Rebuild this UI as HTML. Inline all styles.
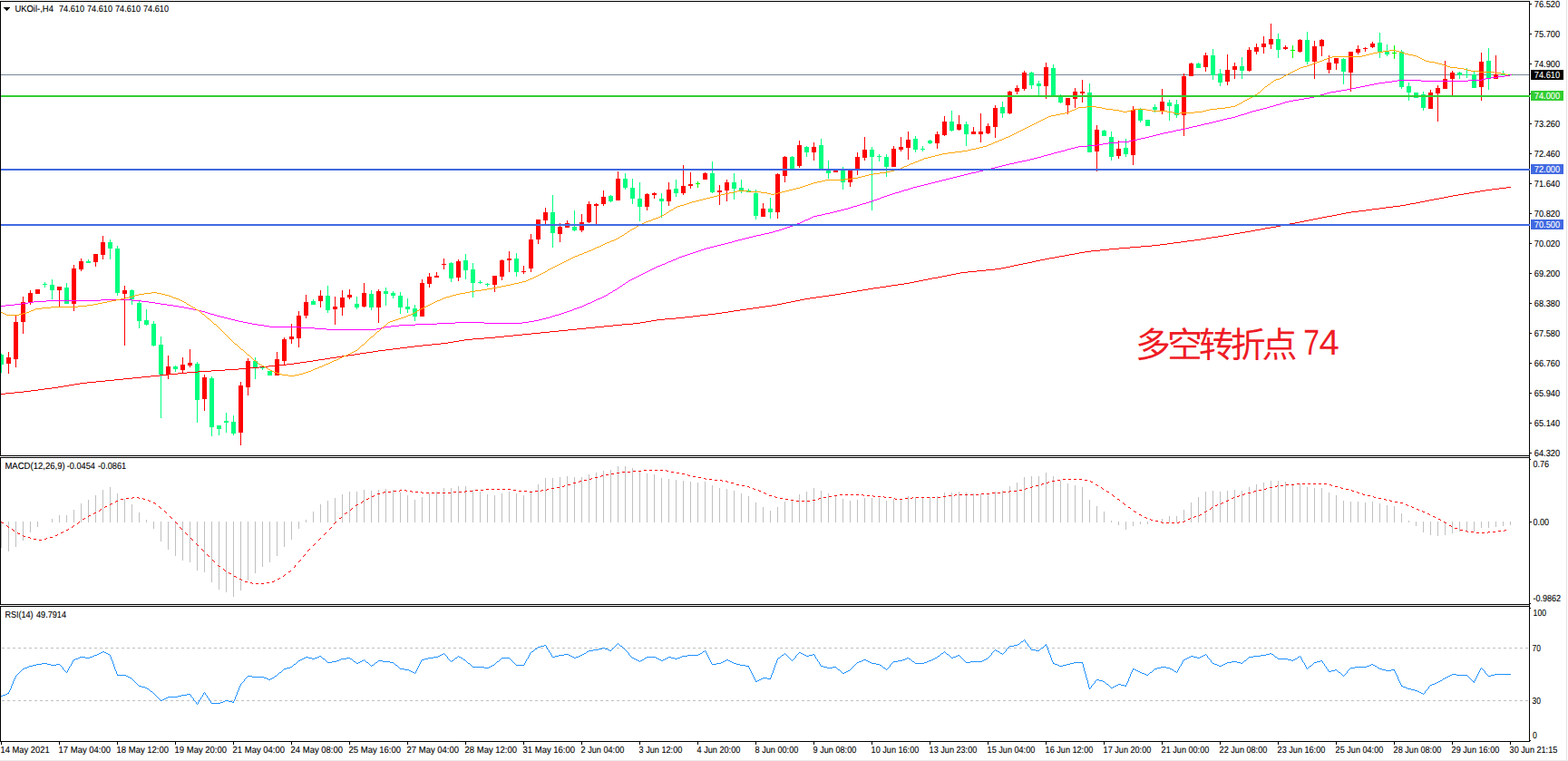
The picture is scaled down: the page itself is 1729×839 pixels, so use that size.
<!DOCTYPE html>
<html><head><meta charset="utf-8"><title>UKOil H4</title>
<style>html,body{margin:0;padding:0;background:#fff;overflow:hidden}svg{display:block}text{font-family:"Liberation Sans",sans-serif;font-size:10.2px;fill:#000;stroke:#000;stroke-width:0.1px;text-rendering:geometricPrecision}.w{fill:#fff;stroke:#fff}</style></head><body>
<svg width="1729" height="839" viewBox="0 0 1729 839">
<rect width="1729" height="839" fill="#fff"/>
<g shape-rendering="crispEdges">
<rect x="1727" y="0" width="1" height="839" fill="#E3E3E3"/>
<rect x="0" y="838" width="1729" height="1" fill="#E9E9E9"/>
<path d="M1 575V604M9 575V608M17 575V603M25 575V596M33 575V587M41 575V581M57 572V576M65 568V576M73 568V576M81 562V576M89 555V576M97 551V576M105 546V576M113 540V576M121 537V576M129 544V576M137 550V576M145 556V576M153 565V576M161 573V576M169 575V583M177 575V597M185 575V606M193 575V613M201 575V618M209 575V620M217 575V629M225 575V631M233 575V642M241 575V650M249 575V653M257 575V658M265 575V651M273 575V640M281 575V632M289 575V625M297 575V620M305 575V613M313 575V603M321 575V595M329 575V583M337 573V576M345 564V576M353 556V576M361 552V576M369 549V576M377 545V576M385 542V576M393 542V576M401 540V576M409 541V576M417 540V576M425 539V576M433 540V576M441 543V576M449 546V576M457 551V576M465 548V576M473 544V576M481 542V576M489 538V576M497 538V576M505 536V576M513 536V576M521 540V576M529 542V576M537 545V576M545 546V576M553 544V576M561 542V576M569 544V576M577 546V576M585 541V576M593 534V576M601 527V576M609 527V576M617 526V576M625 525V576M633 526V576M641 526V576M649 523V576M657 521V576M665 519V576M673 518V576M681 514V576M689 514V576M697 516V576M705 520V576M713 522V576M721 523V576M729 527V576M737 528V576M745 529V576M753 530V576M761 531V576M769 532V576M777 531V576M785 535V576M793 538V576M801 539V576M809 541V576M817 544V576M825 547V576M833 554V576M841 559V576M849 563V576M857 559V576M865 553V576M873 551V576M881 545V576M889 542V576M897 538V576M905 541V576M913 544V576M921 546V576M929 550V576M937 552V576M945 551V576M953 549V576M961 549V576M969 549V576M977 552V576M985 550V576M993 550V576M1001 547V576M1009 548V576M1017 548V576M1025 548V576M1033 547V576M1041 543V576M1049 543V576M1057 542V576M1065 543V576M1073 544V576M1081 545V576M1089 545V576M1097 542V576M1105 541V576M1113 536V576M1121 532V576M1129 526V576M1137 525V576M1145 525V576M1153 521V576M1161 525V576M1169 530V576M1177 533V576M1185 535V576M1193 537V576M1201 551V576M1209 558V576M1217 564V576M1225 574V576M1233 575V579M1241 575V584M1249 575V580M1257 575V578M1265 575V578M1281 572V576M1289 569V576M1297 569V576M1305 562V576M1313 554V576M1321 548V576M1329 542V576M1337 541V576M1345 542V576M1353 541V576M1361 540V576M1369 541V576M1377 537V576M1385 534V576M1393 532V576M1401 530V576M1409 530V576M1417 531V576M1425 533V576M1433 533V576M1441 537V576M1449 538V576M1457 538V576M1465 543V576M1473 546V576M1481 552V576M1489 553V576M1497 553V576M1505 554V576M1513 553V576M1521 555V576M1529 557V576M1537 558V576M1545 566V576M1553 574V576M1561 575V580M1569 575V587M1577 575V590M1585 575V591M1593 575V590M1601 575V588M1609 575V586M1617 575V586M1625 575V586M1633 575V582M1641 575V582M1649 575V581M1657 575V580M1665 575V579" stroke="#C0C0C0" stroke-width="1" fill="none" transform="translate(0.5,0)"/>
<path d="M2 714h3M8 714h3M14 714h3M20 714h3M26 714h3M32 714h3M38 714h3M44 714h3M50 714h3M56 714h3M62 714h3M68 714h3M74 714h3M80 714h3M86 714h3M92 714h3M98 714h3M104 714h3M110 714h3M116 714h3M122 714h3M128 714h3M134 714h3M140 714h3M146 714h3M152 714h3M158 714h3M164 714h3M170 714h3M176 714h3M182 714h3M188 714h3M194 714h3M200 714h3M206 714h3M212 714h3M218 714h3M224 714h3M230 714h3M236 714h3M242 714h3M248 714h3M254 714h3M260 714h3M266 714h3M272 714h3M278 714h3M284 714h3M290 714h3M296 714h3M302 714h3M308 714h3M314 714h3M320 714h3M326 714h3M332 714h3M338 714h3M344 714h3M350 714h3M356 714h3M362 714h3M368 714h3M374 714h3M380 714h3M386 714h3M392 714h3M398 714h3M404 714h3M410 714h3M416 714h3M422 714h3M428 714h3M434 714h3M440 714h3M446 714h3M452 714h3M458 714h3M464 714h3M470 714h3M476 714h3M482 714h3M488 714h3M494 714h3M500 714h3M506 714h3M512 714h3M518 714h3M524 714h3M530 714h3M536 714h3M542 714h3M548 714h3M554 714h3M560 714h3M566 714h3M572 714h3M578 714h3M584 714h3M590 714h3M596 714h3M602 714h3M608 714h3M614 714h3M620 714h3M626 714h3M632 714h3M638 714h3M644 714h3M650 714h3M656 714h3M662 714h3M668 714h3M674 714h3M680 714h3M686 714h3M692 714h3M698 714h3M704 714h3M710 714h3M716 714h3M722 714h3M728 714h3M734 714h3M740 714h3M746 714h3M752 714h3M758 714h3M764 714h3M770 714h3M776 714h3M782 714h3M788 714h3M794 714h3M800 714h3M806 714h3M812 714h3M818 714h3M824 714h3M830 714h3M836 714h3M842 714h3M848 714h3M854 714h3M860 714h3M866 714h3M872 714h3M878 714h3M884 714h3M890 714h3M896 714h3M902 714h3M908 714h3M914 714h3M920 714h3M926 714h3M932 714h3M938 714h3M944 714h3M950 714h3M956 714h3M962 714h3M968 714h3M974 714h3M980 714h3M986 714h3M992 714h3M998 714h3M1004 714h3M1010 714h3M1016 714h3M1022 714h3M1028 714h3M1034 714h3M1040 714h3M1046 714h3M1052 714h3M1058 714h3M1064 714h3M1070 714h3M1076 714h3M1082 714h3M1088 714h3M1094 714h3M1100 714h3M1106 714h3M1112 714h3M1118 714h3M1124 714h3M1130 714h3M1136 714h3M1142 714h3M1148 714h3M1154 714h3M1160 714h3M1166 714h3M1172 714h3M1178 714h3M1184 714h3M1190 714h3M1196 714h3M1202 714h3M1208 714h3M1214 714h3M1220 714h3M1226 714h3M1232 714h3M1238 714h3M1244 714h3M1250 714h3M1256 714h3M1262 714h3M1268 714h3M1274 714h3M1280 714h3M1286 714h3M1292 714h3M1298 714h3M1304 714h3M1310 714h3M1316 714h3M1322 714h3M1328 714h3M1334 714h3M1340 714h3M1346 714h3M1352 714h3M1358 714h3M1364 714h3M1370 714h3M1376 714h3M1382 714h3M1388 714h3M1394 714h3M1400 714h3M1406 714h3M1412 714h3M1418 714h3M1424 714h3M1430 714h3M1436 714h3M1442 714h3M1448 714h3M1454 714h3M1460 714h3M1466 714h3M1472 714h3M1478 714h3M1484 714h3M1490 714h3M1496 714h3M1502 714h3M1508 714h3M1514 714h3M1520 714h3M1526 714h3M1532 714h3M1538 714h3M1544 714h3M1550 714h3M1556 714h3M1562 714h3M1568 714h3M1574 714h3M1580 714h3M1586 714h3M1592 714h3M1598 714h3M1604 714h3M1610 714h3M1616 714h3M1622 714h3M1628 714h3M1634 714h3M1640 714h3M1646 714h3M1652 714h3M1658 714h3M1664 714h3M1670 714h3M1676 714h3M1682 714h3" stroke="#C0C0C0" stroke-width="1" fill="none" transform="translate(0,0.5)"/>
<path d="M2 772h3M8 772h3M14 772h3M20 772h3M26 772h3M32 772h3M38 772h3M44 772h3M50 772h3M56 772h3M62 772h3M68 772h3M74 772h3M80 772h3M86 772h3M92 772h3M98 772h3M104 772h3M110 772h3M116 772h3M122 772h3M128 772h3M134 772h3M140 772h3M146 772h3M152 772h3M158 772h3M164 772h3M170 772h3M176 772h3M182 772h3M188 772h3M194 772h3M200 772h3M206 772h3M212 772h3M218 772h3M224 772h3M230 772h3M236 772h3M242 772h3M248 772h3M254 772h3M260 772h3M266 772h3M272 772h3M278 772h3M284 772h3M290 772h3M296 772h3M302 772h3M308 772h3M314 772h3M320 772h3M326 772h3M332 772h3M338 772h3M344 772h3M350 772h3M356 772h3M362 772h3M368 772h3M374 772h3M380 772h3M386 772h3M392 772h3M398 772h3M404 772h3M410 772h3M416 772h3M422 772h3M428 772h3M434 772h3M440 772h3M446 772h3M452 772h3M458 772h3M464 772h3M470 772h3M476 772h3M482 772h3M488 772h3M494 772h3M500 772h3M506 772h3M512 772h3M518 772h3M524 772h3M530 772h3M536 772h3M542 772h3M548 772h3M554 772h3M560 772h3M566 772h3M572 772h3M578 772h3M584 772h3M590 772h3M596 772h3M602 772h3M608 772h3M614 772h3M620 772h3M626 772h3M632 772h3M638 772h3M644 772h3M650 772h3M656 772h3M662 772h3M668 772h3M674 772h3M680 772h3M686 772h3M692 772h3M698 772h3M704 772h3M710 772h3M716 772h3M722 772h3M728 772h3M734 772h3M740 772h3M746 772h3M752 772h3M758 772h3M764 772h3M770 772h3M776 772h3M782 772h3M788 772h3M794 772h3M800 772h3M806 772h3M812 772h3M818 772h3M824 772h3M830 772h3M836 772h3M842 772h3M848 772h3M854 772h3M860 772h3M866 772h3M872 772h3M878 772h3M884 772h3M890 772h3M896 772h3M902 772h3M908 772h3M914 772h3M920 772h3M926 772h3M932 772h3M938 772h3M944 772h3M950 772h3M956 772h3M962 772h3M968 772h3M974 772h3M980 772h3M986 772h3M992 772h3M998 772h3M1004 772h3M1010 772h3M1016 772h3M1022 772h3M1028 772h3M1034 772h3M1040 772h3M1046 772h3M1052 772h3M1058 772h3M1064 772h3M1070 772h3M1076 772h3M1082 772h3M1088 772h3M1094 772h3M1100 772h3M1106 772h3M1112 772h3M1118 772h3M1124 772h3M1130 772h3M1136 772h3M1142 772h3M1148 772h3M1154 772h3M1160 772h3M1166 772h3M1172 772h3M1178 772h3M1184 772h3M1190 772h3M1196 772h3M1202 772h3M1208 772h3M1214 772h3M1220 772h3M1226 772h3M1232 772h3M1238 772h3M1244 772h3M1250 772h3M1256 772h3M1262 772h3M1268 772h3M1274 772h3M1280 772h3M1286 772h3M1292 772h3M1298 772h3M1304 772h3M1310 772h3M1316 772h3M1322 772h3M1328 772h3M1334 772h3M1340 772h3M1346 772h3M1352 772h3M1358 772h3M1364 772h3M1370 772h3M1376 772h3M1382 772h3M1388 772h3M1394 772h3M1400 772h3M1406 772h3M1412 772h3M1418 772h3M1424 772h3M1430 772h3M1436 772h3M1442 772h3M1448 772h3M1454 772h3M1460 772h3M1466 772h3M1472 772h3M1478 772h3M1484 772h3M1490 772h3M1496 772h3M1502 772h3M1508 772h3M1514 772h3M1520 772h3M1526 772h3M1532 772h3M1538 772h3M1544 772h3M1550 772h3M1556 772h3M1562 772h3M1568 772h3M1574 772h3M1580 772h3M1586 772h3M1592 772h3M1598 772h3M1604 772h3M1610 772h3M1616 772h3M1622 772h3M1628 772h3M1634 772h3M1640 772h3M1646 772h3M1652 772h3M1658 772h3M1664 772h3M1670 772h3M1676 772h3M1682 772h3" stroke="#C0C0C0" stroke-width="1" fill="none" transform="translate(0,0.5)"/>
<rect x="1" y="82" width="1685" height="1" fill="#778899"/>
<path d="M1 390V411M49 311V317M57 308V330M73 312V335M97 286V290M121 264V286M129 271V326M145 319V336M153 331V362M161 341V359M169 354V382M177 371V461M193 403V410M217 399V466M233 415V481M241 469V480M249 455V477M257 458V480M281 394V418M289 404V408M297 409V414M345 330V336M361 315V345M393 327V341M409 320V342M425 317V337M433 321V329M441 322V346M449 329V345M457 336V354M497 289V311M513 280V308M521 290V328M529 309V313M537 312V316M569 279V305M609 215V273M633 232V255M673 215V223M689 191V209M697 197V225M705 201V244M729 213V240M745 198V217M785 178V213M809 191V220M817 198V213M825 208V212M833 209V242M849 218V241M873 172V187M889 161V173M905 153V187M913 177V197M929 184V209M961 162V232M969 170V178M977 170V195M1009 150V168M1017 161V167M1025 154V159M1049 122V145M1065 134V161M1105 112V130M1137 79V98M1145 89V105M1161 71V106M1169 104V114M1201 92V168M1217 143V150M1225 145V177M1241 153V173M1257 119V135M1265 132V139M1273 115V124M1289 110V133M1297 110V130M1321 69V75M1337 54V88M1345 76V95M1369 63V87M1409 37V64M1441 35V71M1481 64V93M1521 36V64M1529 49V62M1545 55V98M1553 91V111M1561 102V108M1569 101V122M1609 79V87M1617 75V86M1625 79V97M1641 53V99M1657 78V83" stroke="#00FF7F" stroke-width="1" fill="none" transform="translate(0.5,0)"/>
<path d="M1 391h3v11h-3zM47 313h5v1h-5zM55 314h5v6h-5zM71 317h5v18h-5zM95 288h5v2h-5zM119 267h5v7h-5zM127 274h5v49h-5zM143 320h5v10h-5zM151 334h5v20h-5zM159 353h5v5h-5zM167 357h5v24h-5zM175 380h5v33h-5zM191 404h5v3h-5zM215 401h5v40h-5zM231 417h5v54h-5zM239 469h5v4h-5zM247 464h5v2h-5zM255 465h5v13h-5zM279 398h5v7h-5zM287 405h5v1h-5zM295 409h5v5h-5zM343 332h5v4h-5zM359 326h5v16h-5zM391 335h5v4h-5zM407 324h5v15h-5zM423 321h5v3h-5zM431 323h5v3h-5zM439 326h5v13h-5zM447 338h5v3h-5zM455 340h5v9h-5zM495 290h5v17h-5zM511 287h5v11h-5zM519 297h5v15h-5zM527 311h5v1h-5zM535 313h5v1h-5zM567 285h5v15h-5zM607 234h5v23h-5zM631 250h5v4h-5zM671 216h5v6h-5zM687 197h5v10h-5zM695 207h5v12h-5zM703 219h5v9h-5zM727 219h5v3h-5zM743 208h5v5h-5zM783 191h5v21h-5zM807 201h5v7h-5zM815 207h5v3h-5zM823 210h5v2h-5zM831 213h5v25h-5zM847 230h5v4h-5zM871 173h5v14h-5zM887 162h5v6h-5zM903 160h5v27h-5zM911 188h5v3h-5zM927 187h5v14h-5zM959 165h5v8h-5zM967 172h5v1h-5zM975 173h5v11h-5zM1007 153h5v12h-5zM1015 164h5v1h-5zM1023 155h5v3h-5zM1047 134h5v10h-5zM1063 137h5v11h-5zM1103 118h5v7h-5zM1135 80h5v14h-5zM1143 92h5v3h-5zM1159 75h5v31h-5zM1167 106h5v7h-5zM1199 102h5v66h-5zM1215 144h5v6h-5zM1223 151h5v22h-5zM1239 163h5v7h-5zM1255 120h5v13h-5zM1263 132h5v7h-5zM1271 118h5v3h-5zM1287 113h5v4h-5zM1295 115h5v12h-5zM1319 70h5v5h-5zM1335 61h5v22h-5zM1343 81h5v10h-5zM1367 73h5v5h-5zM1407 43h5v12h-5zM1439 44h5v24h-5zM1479 65h5v14h-5zM1519 47h5v10h-5zM1527 56h5v4h-5zM1543 57h5v39h-5zM1551 95h5v7h-5zM1559 102h5v6h-5zM1567 104h5v15h-5zM1607 80h5v3h-5zM1615 82h5v1h-5zM1623 82h5v15h-5zM1639 67h5v19h-5zM1655 82h5v1h-5z" fill="#00FF7F"/>
<path d="M9 388V412M17 347V405M25 327V368M33 320V336M41 319V324M65 316V338M81 292V343M89 285V299M105 280V294M113 260V286M137 315V381M185 392V418M201 394V411M209 385V405M225 413V453M265 421V491M273 395V436M305 388V414M313 372V402M321 357V379M329 343V383M337 325V351M353 320V339M369 327V358M377 320V348M385 319V330M401 312V339M417 319V356M465 308V349M473 301V317M481 300V306M489 285V297M505 286V310M545 304V322M553 286V309M561 277V300M577 293V302M585 258V300M593 242V269M601 229V247M617 246V267M625 243V251M641 236V256M649 222V246M657 224V247M665 210V227M681 189V221M713 213V232M721 212V219M737 201V227M753 182V215M761 190V208M777 190V198M793 204V226M801 198V222M841 224V239M857 191V241M865 172V201M881 155V185M897 157V177M921 187V190M937 187V206M945 168V193M953 151V177M985 161V184M993 151V167M1001 145V176M1033 145V164M1041 128V150M1057 127V144M1073 140V148M1081 125V157M1089 136V148M1097 116V152M1113 100V126M1121 94V104M1129 78V100M1153 69V109M1177 108V126M1185 97V119M1193 88V113M1209 138V189M1233 155V175M1249 117V182M1281 98V126M1305 81V150M1313 69V84M1329 58V79M1353 60V94M1361 69V87M1377 52V79M1385 48V60M1393 40V59M1401 26V54M1417 50V55M1433 43V58M1449 45V87M1457 43V62M1465 61V81M1473 64V77M1489 57V101M1497 50V60M1505 52V57M1513 46V53M1577 99V120M1585 94V134M1593 67V98M1601 78V105M1633 58V111M1649 61V87" stroke="#FF0000" stroke-width="1" fill="none" transform="translate(0.5,0)"/>
<path d="M7 394h5v7h-5zM15 355h5v41h-5zM23 333h5v22h-5zM31 323h5v11h-5zM39 319h5v5h-5zM63 316h5v4h-5zM79 296h5v39h-5zM87 288h5v9h-5zM103 280h5v9h-5zM111 267h5v14h-5zM135 320h5v4h-5zM183 404h5v9h-5zM199 402h5v6h-5zM207 400h5v3h-5zM223 416h5v24h-5zM263 425h5v52h-5zM271 398h5v29h-5zM303 396h5v18h-5zM311 374h5v24h-5zM319 371h5v3h-5zM327 348h5v25h-5zM335 333h5v15h-5zM351 326h5v6h-5zM367 338h5v3h-5zM375 328h5v11h-5zM383 325h5v3h-5zM399 323h5v15h-5zM415 321h5v18h-5zM463 312h5v37h-5zM471 305h5v8h-5zM479 304h5v2h-5zM487 291h5v1h-5zM503 288h5v18h-5zM543 304h5v10h-5zM551 287h5v18h-5zM559 285h5v2h-5zM575 299h5v1h-5zM583 264h5v32h-5zM591 242h5v22h-5zM599 234h5v9h-5zM615 250h5v8h-5zM623 246h5v5h-5zM639 245h5v9h-5zM647 225h5v20h-5zM655 225h5v2h-5zM663 217h5v8h-5zM679 197h5v24h-5zM711 214h5v14h-5zM719 213h5v2h-5zM735 209h5v13h-5zM751 205h5v8h-5zM759 203h5v2h-5zM775 191h5v7h-5zM791 210h5v2h-5zM799 201h5v9h-5zM839 230h5v9h-5zM855 192h5v42h-5zM863 173h5v21h-5zM879 160h5v23h-5zM895 162h5v6h-5zM919 187h5v3h-5zM935 187h5v14h-5zM943 173h5v13h-5zM951 165h5v9h-5zM983 164h5v20h-5zM991 162h5v3h-5zM999 154h5v9h-5zM1031 148h5v10h-5zM1039 134h5v15h-5zM1055 137h5v6h-5zM1071 145h5v3h-5zM1079 145h5v3h-5zM1087 139h5v8h-5zM1095 119h5v21h-5zM1111 101h5v24h-5zM1119 97h5v4h-5zM1127 80h5v18h-5zM1151 74h5v21h-5zM1175 108h5v8h-5zM1183 101h5v8h-5zM1191 101h5v2h-5zM1207 143h5v24h-5zM1231 164h5v8h-5zM1247 121h5v50h-5zM1279 112h5v10h-5zM1303 84h5v43h-5zM1311 70h5v14h-5zM1327 61h5v13h-5zM1351 77h5v13h-5zM1359 73h5v4h-5zM1375 55h5v23h-5zM1383 52h5v5h-5zM1391 48h5v4h-5zM1399 43h5v6h-5zM1415 52h5v2h-5zM1431 44h5v13h-5zM1447 51h5v17h-5zM1455 44h5v7h-5zM1463 69h5v8h-5zM1471 64h5v6h-5zM1487 57h5v23h-5zM1495 54h5v4h-5zM1503 53h5v1h-5zM1511 48h5v4h-5zM1575 102h5v18h-5zM1583 97h5v6h-5zM1591 87h5v11h-5zM1599 80h5v7h-5zM1631 68h5v28h-5zM1647 82h5v5h-5z" fill="#FF0000"/>
<path d="M769 200V207M1425 50V64M1537 50V65" stroke="#00FF00" stroke-width="1" fill="none" transform="translate(0.5,0)"/>
<path d="M767 202h5v1h-5zM1423 55h5v1h-5zM1535 58h5v1h-5z" fill="#00FF00"/>
<rect x="1663" y="82" width="5" height="1" fill="#00FF00"/>
</g>
<g shape-rendering="crispEdges" transform="translate(0,0.5)">
<path d="M1661 206h5M1653 207h8M1645 208h8M1638 209h7M1632 210h6M1626 211h6M1620 212h6M1614 213h6M1608 214h6M1602 215h6M1597 216h5M1592 217h5M1587 218h5M1581 219h6M1576 220h5M1571 221h5M1566 222h5M1561 223h5M1555 224h6M1550 225h5M1544 226h6M1536 227h8M1528 228h8M1521 229h7M1513 230h8M1506 231h7M1498 232h8M1490 233h8M1484 234h6M1479 235h5M1474 236h5M1469 237h5M1463 238h6M1458 239h5M1453 240h5M1448 241h5M1443 242h5M1438 243h5M1433 244h5M1428 245h5M1422 246h6M1417 247h5M1412 248h5M1407 249h5M1401 250h6M1395 251h6M1390 252h5M1384 253h6M1379 254h5M1373 255h6M1367 256h6M1361 257h6M1355 258h6M1349 259h6M1343 260h6M1336 261h7M1330 262h6M1324 263h6M1317 264h7M1309 265h8M1302 266h7M1294 267h8M1287 268h7M1279 269h8M1270 270h9M1258 271h12M1246 272h12M1234 273h12M1223 274h11M1213 275h10M1203 276h10M1196 277h7M1190 278h6M1185 279h5M1179 280h6M1174 281h5M1168 282h6M1163 283h5M1157 284h6M1152 285h5M1147 286h5M1142 287h5M1138 288h4M1133 289h5M1128 290h5M1123 291h5M1118 292h5M1114 293h4M1109 294h5M1104 295h5M1097 296h7M1087 297h10M1077 298h10M1067 299h10M1059 300h8M1054 301h5M1049 302h5M1044 303h5M1039 304h5M1034 305h5M1028 306h6M1023 307h5M1018 308h5M1013 309h5M1008 310h5M1003 311h5M997 312h6M990 313h7M983 314h7M977 315h6M970 316h7M963 317h7M957 318h6M951 319h6M945 320h6M939 321h6M933 322h6M927 323h6M921 324h6M914 325h7M907 326h7M900 327h7M893 328h7M887 329h6M882 330h5M877 331h5M872 332h5M867 333h5M862 334h5M857 335h5M851 336h6M844 337h7M837 338h7M830 339h7M823 340h7M816 341h7M809 342h7M803 343h6M796 344h7M789 345h7M781 346h8M772 347h9M764 348h8M755 349h9M745 350h10M733 351h12M724 352h9M718 353h6M712 354h6M706 355h6M698 356h8M686 357h12M676 358h10M666 359h10M656 360h10M646 361h10M636 362h10M626 363h10M616 364h10M606 365h10M596 366h10M586 367h10M576 368h10M566 369h10M556 370h10M546 371h10M534 372h12M521 373h13M512 374h9M506 375h6M500 376h6M494 377h6M486 378h8M476 379h10M466 380h10M457 381h9M449 382h8M441 383h8M433 384h8M425 385h8M417 386h8M411 387h6M404 388h7M397 389h7M391 390h6M384 391h7M377 392h7M371 393h6M364 394h7M358 395h6M351 396h7M345 397h6M338 398h7M331 399h7M324 400h7M316 401h8M306 402h10M296 403h10M286 404h10M276 405h10M263 406h13M248 407h15M233 408h15M218 409h15M206 410h12M196 411h10M186 412h10M176 413h10M166 414h10M156 415h10M146 416h10M136 417h10M126 418h10M116 419h10M106 420h10M96 421h10M88 422h8M82 423h6M76 424h6M70 425h6M64 426h6M57 427h7M49 428h8M42 429h7M34 430h8M26 431h8M16 432h10M6 433h10M1 434h5" stroke="#FF0000" stroke-width="1" fill="none"/>
<path d="M1665 82h2M1659 83h6M1651 84h8M1644 85h7M1638 86h6M1634 87h4M1541 88h26M1619 88h15M1535 89h6M1567 89h52M1527 90h8M1520 91h7M1515 92h5M1510 93h5M1505 94h5M1500 95h5M1495 96h5M1490 97h5M1485 98h5M1479 99h6M1473 100h6M1467 101h6M1463 102h4M1460 103h3M1456 104h4M1453 105h3M1449 106h4M1444 107h5M1438 108h6M1432 109h6M1426 110h6M1421 111h5M1417 112h4M1414 113h3M1411 114h3M1407 115h4M1404 116h3M1400 117h4M1397 118h3M1393 119h4M1389 120h4M1385 121h4M1381 122h4M1378 123h3M1375 124h3M1372 125h3M1368 126h4M1365 127h3M1362 128h3M1358 129h4M1353 130h5M1349 131h4M1345 132h4M1341 133h4M1337 134h4M1333 135h4M1328 136h5M1324 137h4M1320 138h4M1315 139h5M1311 140h4M1307 141h4M1302 142h5M1297 143h5M1293 144h4M1288 145h5M1283 146h5M1279 147h4M1275 148h4M1271 149h4M1267 150h4M1263 151h4M1258 152h5M1254 153h4M1249 154h5M1245 155h4M1234 156h11M1222 157h12M1216 158h6M1210 159h6M1199 160h11M1189 161h10M1185 162h4M1181 163h4M1177 164h4M1174 165h3M1170 166h4M1166 167h4M1162 168h4M1159 169h3M1155 170h4M1151 171h4M1148 172h3M1144 173h4M1140 174h4M1136 175h4M1132 176h4M1127 177h5M1122 178h5M1118 179h4M1113 180h5M1109 181h4M1105 182h4M1101 183h4M1097 184h4M1093 185h4M1089 186h4M1084 187h5M1080 188h4M1076 189h4M1071 190h5M1067 191h4M1063 192h4M1059 193h4M1055 194h4M1051 195h4M1047 196h4M1043 197h4M1039 198h4M1035 199h4M1031 200h4M1027 201h4M1023 202h4M1019 203h4M1015 204h4M1011 205h4M1007 206h4M1004 207h3M1001 208h3M997 209h4M994 210h3M991 211h3M987 212h4M984 213h3M981 214h3M978 215h3M975 216h3M972 217h3M970 218h2M967 219h3M964 220h3M961 221h3M958 222h3M955 223h3M951 224h4M948 225h3M945 226h3M941 227h4M938 228h3M935 229h3M931 230h4M927 231h4M923 232h4M919 233h4M915 234h4M910 235h5M906 236h4M901 237h5M897 238h4M895 239h2M893 240h2M891 241h2M888 242h3M886 243h2M884 244h2M882 245h2M879 246h3M876 247h3M874 248h2M871 249h3M868 250h3M865 251h3M862 252h3M859 253h3M855 254h4M852 255h3M848 256h4M843 257h5M839 258h4M834 259h5M830 260h4M826 261h4M822 262h4M818 263h4M814 264h4M810 265h4M807 266h3M803 267h4M799 268h4M795 269h4M791 270h4M787 271h4M783 272h4M779 273h4M776 274h3M773 275h3M770 276h3M767 277h3M764 278h3M761 279h3M758 280h3M755 281h3M752 282h3M749 283h3M747 284h2M745 285h2M742 286h3M740 287h2M737 288h3M735 289h2M733 290h2M730 291h3M728 292h2M725 293h3M723 294h2M721 295h2M719 296h2M717 297h2M715 298h2M713 299h2M711 300h2M709 301h2M707 302h2M705 303h2M703 304h2M701 305h2M699 306h2M697 307h2M695 308h2M693 309h2M692 310h1M690 311h2M689 312h1M687 313h2M686 314h1M684 315h2M683 316h1M681 317h2M680 318h1M678 319h2M676 320h2M675 321h1M673 322h2M671 323h2M670 324h1M668 325h2M666 326h2M664 327h2M662 328h2M659 329h3M111 330h35M657 330h2M51 331h60M146 331h10M655 331h2M37 332h14M156 332h8M653 332h2M31 333h6M164 333h7M651 333h2M24 334h7M171 334h6M648 334h3M16 335h8M177 335h7M646 335h2M6 336h10M184 336h7M644 336h2M1 337h5M191 337h6M642 337h2M197 338h6M639 338h3M203 339h5M636 339h3M208 340h5M633 340h3M213 341h5M631 341h2M218 342h4M628 342h3M222 343h4M625 343h3M226 344h3M622 344h3M229 345h3M619 345h3M232 346h4M616 346h3M236 347h3M612 347h4M239 348h4M609 348h3M243 349h4M606 349h3M247 350h4M602 350h4M251 351h4M598 351h4M255 352h4M594 352h4M259 353h4M589 353h5M263 354h5M583 354h6M268 355h5M502 355h32M576 355h7M273 356h5M482 356h20M534 356h42M278 357h6M458 357h24M284 358h7M440 358h18M291 359h6M431 359h9M297 360h34M424 360h7M331 361h16M420 361h4M347 362h13M415 362h5M360 363h55" stroke="#FF00FF" stroke-width="1" fill="none"/>
<path d="M1532 55h7M1525 56h7M1539 56h4M1519 57h6M1543 57h3M1514 58h5M1546 58h3M1510 59h4M1549 59h4M1506 60h4M1553 60h5M1502 61h4M1558 61h4M1469 62h33M1562 62h2M1465 63h4M1564 63h2M1463 64h2M1566 64h2M1460 65h3M1568 65h2M1458 66h2M1570 66h2M1455 67h3M1572 67h4M1452 68h3M1576 68h6M1449 69h3M1582 69h4M1447 70h2M1586 70h4M1444 71h3M1590 71h3M1441 72h3M1593 72h3M1437 73h4M1596 73h3M1434 74h3M1599 74h8M1432 75h2M1607 75h7M1430 76h2M1614 76h4M1428 77h2M1618 77h4M1426 78h2M1622 78h9M1424 79h2M1631 79h17M1422 80h2M1648 80h7M1420 81h2M1655 81h5M1418 82h2M1660 82h3M1416 83h2M1415 84h1M1413 85h2M1411 86h2M1407 87h4M1405 88h2M1404 89h1M1402 90h2M1401 91h1M1400 92h1M1398 93h2M1397 94h1M1395 95h2M1394 96h1M1393 97h1M1392 98h1M1391 99h1M1390 100h1M1389 101h1M1387 102h2M1386 103h1M1384 104h2M1383 105h1M1381 106h2M1379 107h2M1377 108h2M1375 109h2M1373 110h2M1371 111h2M1370 112h1M1368 113h2M1366 114h2M1364 115h2M1362 116h2M1198 117h11M1357 117h5M1189 118h9M1209 118h6M1351 118h6M1187 119h2M1215 119h4M1342 119h9M1185 120h2M1219 120h8M1250 120h14M1334 120h8M1182 121h3M1227 121h7M1247 121h3M1264 121h6M1330 121h4M1180 122h2M1234 122h4M1243 122h4M1270 122h17M1326 122h4M1178 123h2M1238 123h5M1287 123h6M1317 123h9M1174 124h4M1293 124h3M1301 124h16M1169 125h5M1296 125h5M1164 126h5M1159 127h5M1156 128h3M1154 129h2M1152 130h2M1150 131h2M1148 132h2M1146 133h2M1144 134h2M1142 135h2M1140 136h2M1138 137h2M1136 138h2M1134 139h2M1132 140h2M1130 141h2M1128 142h2M1126 143h2M1124 144h2M1122 145h2M1120 146h2M1118 147h2M1116 148h2M1114 149h2M1112 150h2M1109 151h3M1107 152h2M1105 153h2M1102 154h3M1100 155h2M1097 156h3M1095 157h2M1093 158h2M1090 159h3M1088 160h2M1084 161h4M1080 162h4M1076 163h4M1071 164h5M1067 165h4M1061 166h6M1053 167h8M1045 168h8M1039 169h6M1035 170h4M1031 171h4M1027 172h4M1023 173h4M1019 174h4M1017 175h2M1014 176h3M1012 177h2M1009 178h3M1007 179h2M1004 180h3M1002 181h2M1000 182h2M997 183h3M995 184h2M993 185h2M990 186h3M986 187h4M982 188h4M977 189h5M970 190h7M963 191h7M958 192h5M954 193h4M950 194h4M946 195h4M939 196h7M931 197h8M910 198h21M906 199h4M901 200h5M897 201h4M894 202h3M891 203h3M888 204h3M885 205h3M882 206h3M878 207h4M874 208h4M870 209h4M813 210h12M866 210h4M809 211h4M825 211h14M862 211h4M804 212h5M839 212h7M858 212h4M799 213h5M846 213h4M854 213h4M795 214h4M850 214h4M791 215h4M787 216h4M783 217h4M779 218h4M775 219h4M771 220h4M767 221h4M763 222h4M760 223h3M757 224h3M754 225h3M750 226h4M747 227h3M745 228h2M743 229h2M742 230h1M740 231h2M738 232h2M737 233h1M735 234h2M734 235h1M732 236h2M730 237h2M728 238h2M726 239h2M723 240h3M720 241h3M718 242h2M715 243h3M712 244h3M710 245h2M708 246h2M706 247h2M704 248h2M702 249h2M701 250h1M699 251h2M697 252h2M695 253h2M694 254h1M692 255h2M691 256h1M689 257h2M688 258h1M686 259h2M684 260h2M683 261h1M681 262h2M679 263h2M677 264h2M674 265h3M672 266h2M669 267h3M667 268h2M665 269h2M663 270h2M661 271h2M658 272h3M656 273h2M654 274h2M652 275h2M649 276h3M647 277h2M644 278h3M642 279h2M639 280h3M637 281h2M634 282h3M632 283h2M630 284h2M628 285h2M626 286h2M624 287h2M622 288h2M620 289h2M618 290h2M616 291h2M614 292h2M612 293h2M610 294h2M608 295h2M606 296h2M604 297h2M603 298h1M601 299h2M599 300h2M597 301h2M595 302h2M593 303h2M591 304h2M589 305h2M587 306h2M584 307h3M582 308h2M580 309h2M576 310h4M572 311h4M567 312h5M563 313h4M558 314h5M553 315h5M548 316h5M543 317h5M537 318h6M531 319h6M524 320h7M518 321h6M167 322h6M513 322h5M159 323h8M173 323h5M507 323h6M153 324h6M178 324h4M503 324h4M149 325h4M182 325h4M499 325h4M146 326h3M186 326h3M496 326h3M142 327h4M189 327h2M492 327h4M138 328h4M191 328h3M489 328h3M133 329h5M194 329h3M487 329h2M128 330h5M197 330h2M485 330h2M123 331h5M199 331h2M482 331h3M118 332h5M201 332h2M480 332h2M113 333h5M203 333h2M478 333h2M108 334h5M205 334h1M476 334h2M103 335h5M206 335h2M474 335h2M96 336h7M208 336h2M472 336h2M86 337h10M210 337h1M470 337h2M56 338h30M211 338h2M468 338h2M46 339h10M213 339h2M466 339h2M39 340h7M215 340h1M464 340h2M37 341h2M216 341h2M462 341h2M34 342h3M218 342h2M460 342h2M32 343h2M220 343h1M459 343h1M1 344h2M29 344h3M221 344h1M457 344h2M3 345h2M25 345h4M222 345h1M455 345h2M5 346h2M21 346h4M223 346h2M453 346h2M7 347h14M225 347h1M450 347h3M226 348h1M448 348h2M227 349h1M445 349h3M228 350h1M442 350h3M229 351h2M439 351h3M231 352h1M436 352h3M232 353h1M433 353h3M233 354h1M430 354h3M234 355h1M428 355h2M235 356h1M427 356h1M236 357h2M426 357h1M238 358h1M425 358h1M239 359h1M423 359h2M240 360h1M422 360h1M241 361h1M421 361h1M242 362h1M420 362h1M243 363h1M419 363h1M244 364h1M418 364h1M245 365h1M416 365h2M246 366h1M415 366h1M247 367h1M414 367h1M248 368h1M413 368h1M249 369h1M412 369h1M250 370h1M411 370h1M251 371h1M409 371h2M252 372h1M408 372h1M253 373h1M407 373h1M254 374h1M406 374h1M255 375h1M405 375h1M256 376h1M404 376h1M257 377h1M403 377h1M258 378h1M402 378h1M259 379h2M401 379h1M261 380h1M399 380h2M262 381h1M398 381h1M263 382h1M397 382h1M264 383h1M396 383h1M265 384h1M395 384h1M266 385h2M394 385h1M268 386h1M392 386h2M269 387h1M390 387h2M270 388h1M388 388h2M271 389h1M386 389h2M272 390h1M384 390h2M273 391h2M382 391h2M275 392h1M379 392h3M276 393h1M377 393h2M277 394h1M375 394h2M278 395h1M373 395h2M279 396h1M371 396h2M280 397h2M368 397h3M282 398h1M366 398h2M283 399h1M364 399h2M284 400h1M362 400h2M285 401h2M359 401h3M287 402h2M357 402h2M289 403h2M355 403h2M291 404h2M352 404h3M293 405h1M350 405h2M294 406h2M347 406h3M296 407h2M345 407h2M298 408h2M343 408h2M300 409h2M340 409h3M302 410h3M337 410h3M305 411h3M334 411h3M308 412h3M330 412h4M311 413h7M325 413h5M318 414h7" stroke="#FFA500" stroke-width="1" fill="none"/>
</g>
<g shape-rendering="crispEdges">
<rect x="1" y="105" width="1686" height="2" fill="#32CD32"/>
<rect x="1" y="186" width="1686" height="2" fill="#4169E1"/>
<rect x="1" y="247" width="1686" height="2" fill="#4169E1"/>
</g>
<g shape-rendering="crispEdges" transform="translate(0,0.5)">
<path d="M710 518h3M716 518h3M722 518h3M728 518h3M734 518h1M698 519h3M704 519h3M735 519h2M686 520h3M692 520h3M740 520h3M680 521h3M746 521h3M674 522h3M752 522h3M668 523h3M758 523h1M663 524h2M759 524h2M662 525h1M764 525h3M656 526h3M770 526h3M652 527h1M776 527h2M650 528h2M778 528h1M782 528h3M1172 528h3M1178 528h3M1184 528h3M1190 528h3M644 529h3M788 529h3M794 529h2M1166 529h3M1196 529h3M639 530h2M796 530h1M800 530h2M1160 530h3M1202 530h1M638 531h1M802 531h1M1156 531h1M1203 531h2M632 532h3M806 532h3M1154 532h2M1149 533h2M1430 533h3M1436 533h3M1442 533h3M1448 533h3M1454 533h3M1460 533h3M626 534h3M812 534h3M1148 534h1M1208 534h2M1418 534h3M1424 534h3M1466 534h2M622 535h1M818 535h3M1142 535h3M1210 535h1M1408 535h1M1412 535h3M1468 535h1M620 536h2M824 536h2M1138 536h1M1406 536h2M1472 536h3M614 537h3M826 537h1M1136 537h2M1214 537h1M1400 537h3M1478 537h1M608 538h3M830 538h1M1131 538h2M1215 538h1M1396 538h1M1479 538h2M536 539h3M542 539h3M548 539h3M554 539h3M560 539h3M603 539h2M831 539h2M1130 539h1M1216 539h1M1394 539h2M1484 539h3M441 540h2M446 540h2M524 540h3M530 540h3M566 540h3M597 540h2M602 540h1M836 540h1M1124 540h3M1388 540h3M1490 540h1M434 541h3M440 541h1M448 541h1M452 541h2M513 541h2M518 541h3M572 541h3M578 541h3M590 541h3M596 541h1M837 541h2M1113 541h2M1118 541h3M1220 541h1M1383 541h2M1491 541h2M423 542h2M428 542h3M454 542h1M458 542h3M464 542h1M500 542h3M506 542h3M512 542h1M584 542h3M1106 542h3M1112 542h1M1221 542h2M1382 542h1M1496 542h1M422 543h1M465 543h2M470 543h3M476 543h3M482 543h3M488 543h3M494 543h3M842 543h2M1094 543h3M1100 543h3M1376 543h3M1497 543h2M416 544h3M844 544h1M1082 544h3M1088 544h3M1372 544h1M1502 544h1M926 545h3M932 545h3M938 545h3M944 545h3M950 545h2M1053 545h2M1058 545h3M1064 545h3M1070 545h3M1076 545h3M1226 545h1M1370 545h2M1503 545h2M412 546h1M848 546h3M920 546h3M952 546h1M956 546h3M962 546h1M1046 546h3M1052 546h1M1227 546h1M1366 546h1M1508 546h3M410 547h2M854 547h1M914 547h3M963 547h2M968 547h3M974 547h1M1040 547h3M1228 547h1M1364 547h2M1514 547h1M146 548h2M151 548h2M855 548h2M908 548h3M975 548h2M980 548h3M1006 548h1M1010 548h3M1016 548h3M1022 548h3M1028 548h3M1034 548h3M1360 548h1M1515 548h2M139 549h3M145 549h1M153 549h1M157 549h1M406 549h1M860 549h3M903 549h2M986 549h1M998 549h3M1004 549h2M1358 549h2M1520 549h3M133 550h3M158 550h2M404 550h2M866 550h3M902 550h1M987 550h2M992 550h3M1232 550h2M1526 550h2M163 551h1M872 551h3M896 551h3M1234 551h1M1354 551h1M1528 551h1M1532 551h1M128 552h2M164 552h2M400 552h1M878 552h3M884 552h3M890 552h3M1352 552h2M1533 552h2M127 553h1M399 553h1M1538 553h3M169 554h2M398 554h1M1238 554h1M1347 554h2M1544 554h3M122 555h2M171 555h1M1239 555h1M1346 555h1M121 556h1M393 556h2M1240 556h1M1342 556h1M1550 556h2M392 557h1M1340 557h2M1552 557h1M116 558h2M175 558h1M1556 558h1M115 559h1M176 559h1M1244 559h2M1336 559h1M1557 559h2M177 560h1M388 560h1M1246 560h1M1335 560h1M111 561h1M387 561h1M1334 561h1M1562 561h2M110 562h1M386 562h1M1564 562h1M109 563h1M181 563h1M1250 563h1M1330 563h1M1568 563h1M182 564h1M1251 564h2M1328 564h2M1569 564h2M104 565h2M183 565h1M381 565h2M103 566h1M380 566h1M1574 566h2M1256 567h2M1323 567h2M1576 567h1M98 568h2M1258 568h1M1322 568h1M97 569h1M187 569h1M1317 569h2M1580 569h2M188 570h1M376 570h1M1262 570h2M1316 570h1M1582 570h1M93 571h1M189 571h1M374 571h2M1264 571h1M1312 571h1M91 572h2M1268 572h1M1310 572h2M1586 572h2M1269 573h2M1588 573h1M1274 574h3M1306 574h1M1 575h1M87 575h1M193 575h1M370 575h1M1280 575h1M1300 575h1M1304 575h2M1592 575h1M2 576h2M86 576h1M194 576h1M369 576h1M1281 576h2M1286 576h3M1292 576h3M1298 576h2M1593 576h2M85 577h1M195 577h1M368 577h1M7 579h1M81 579h1M1598 579h2M8 580h1M80 580h1M1600 580h1M9 581h1M79 581h1M198 581h1M365 581h1M199 582h1M364 582h1M1604 582h3M13 583h1M75 583h1M200 583h1M363 583h1M14 584h1M73 584h2M1610 584h3M1659 584h2M15 585h1M1616 585h2M1652 585h3M1658 585h1M69 586h1M1618 586h1M1622 586h3M1641 586h2M1646 586h3M19 587h1M67 587h2M204 587h1M359 587h1M1628 587h3M1634 587h3M1640 587h1M20 588h2M205 588h1M358 588h1M63 589h1M206 589h1M357 589h1M25 590h1M61 590h2M26 591h2M31 592h2M55 592h3M33 593h1M51 593h1M210 593h1M353 593h1M37 594h3M49 594h2M211 594h1M352 594h1M43 595h3M212 595h1M351 595h1M216 599h1M347 599h1M217 600h1M346 600h1M218 601h1M345 601h1M222 605h1M341 605h1M223 606h1M340 606h1M224 607h1M339 607h1M228 611h1M336 611h1M229 612h1M335 612h1M230 613h1M334 613h1M234 617h1M331 617h1M235 618h1M330 618h1M236 619h1M329 619h1M240 623h1M325 623h1M241 624h2M325 624h1M324 625h1M246 627h1M247 628h1M248 629h1M320 629h1M318 630h2M252 631h1M253 632h2M314 633h1M313 634h1M258 635h2M312 635h1M260 636h1M308 637h1M264 638h2M306 638h2M266 639h1M302 640h1M270 641h3M300 641h2M276 642h2M294 642h3M278 643h1M282 643h3M288 643h3" stroke="#FF0000" stroke-width="1" fill="none"/>
</g>
<g shape-rendering="crispEdges" transform="translate(0,0.5)">
<path d="M1129 705h1M1128 706h1M1130 706h1M1126 707h2M1130 707h1M1125 708h1M1131 708h1M681 709h1M1124 709h1M1132 709h1M680 710h1M682 710h1M1122 710h2M1133 710h1M1153 710h1M600 711h2M679 711h1M683 711h1M1118 711h4M1133 711h1M1152 711h2M596 712h4M602 712h1M678 712h1M684 712h2M1113 712h5M1134 712h1M1151 712h1M1154 712h1M593 713h3M602 713h1M677 713h1M686 713h1M1112 713h1M1135 713h1M1150 713h1M1154 713h1M592 714h1M603 714h1M664 714h3M676 714h1M687 714h1M1111 714h1M1136 714h1M1148 714h2M1155 714h1M590 715h2M603 715h1M660 715h4M667 715h3M675 715h1M688 715h1M1110 715h1M1136 715h1M1147 715h1M1155 715h1M589 716h1M604 716h1M654 716h6M670 716h2M674 716h1M689 716h1M1097 716h1M1109 716h1M1137 716h5M1146 716h1M1155 716h1M588 717h1M605 717h1M649 717h5M672 717h2M690 717h1M777 717h1M1096 717h1M1098 717h2M1109 717h1M1142 717h4M1156 717h1M113 718h2M586 718h2M605 718h1M647 718h2M691 718h1M775 718h2M778 718h1M1041 718h1M1095 718h1M1100 718h2M1108 718h1M1156 718h1M111 719h2M115 719h2M585 719h1M606 719h1M646 719h1M692 719h1M774 719h1M778 719h1M881 719h2M1040 719h1M1042 719h1M1094 719h1M1102 719h1M1107 719h1M1156 719h1M109 720h2M117 720h2M489 720h1M584 720h1M607 720h1M644 720h2M693 720h1M772 720h2M779 720h1M865 720h1M880 720h1M883 720h2M1038 720h2M1043 720h1M1093 720h1M1103 720h2M1106 720h1M1157 720h1M1400 720h2M107 721h2M119 721h2M487 721h2M490 721h1M584 721h1M607 721h1M622 721h5M642 721h2M693 721h1M770 721h2M779 721h1M864 721h1M866 721h1M879 721h1M885 721h2M896 721h2M1037 721h1M1044 721h2M1093 721h1M1105 721h1M1157 721h1M1329 721h1M1396 721h4M1402 721h2M104 722h3M121 722h1M485 722h2M491 722h1M583 722h1M608 722h1M616 722h6M627 722h2M640 722h2M694 722h1M758 722h12M780 722h1M862 722h2M867 722h1M878 722h1M887 722h2M892 722h4M898 722h1M1036 722h1M1046 722h1M1056 722h2M1092 722h1M1158 722h1M1327 722h2M1330 722h1M1390 722h6M1404 722h1M102 723h2M121 723h1M352 723h2M483 723h2M492 723h1M505 723h1M583 723h1M608 723h1M612 723h4M629 723h2M638 723h2M695 723h1M752 723h6M780 723h1M861 723h1M868 723h1M877 723h1M889 723h3M898 723h1M1034 723h2M1047 723h1M1054 723h2M1058 723h1M1091 723h1M1158 723h1M1313 723h3M1325 723h2M1331 723h1M1382 723h8M1405 723h1M1433 723h1M88 724h6M99 724h3M122 724h1M337 724h3M350 724h2M354 724h1M478 724h5M493 724h1M504 724h1M506 724h2M582 724h1M609 724h3M631 724h2M635 724h3M696 724h1M713 724h10M737 724h3M750 724h2M781 724h1M860 724h1M869 724h1M877 724h1M899 724h1M1033 724h1M1048 724h1M1051 724h3M1059 724h1M1090 724h1M1158 724h1M1311 724h2M1316 724h4M1323 724h2M1331 724h1M1377 724h5M1406 724h2M1431 724h2M1434 724h1M86 725h2M94 725h5M122 725h1M335 725h2M340 725h4M347 725h3M355 725h1M382 725h4M472 725h6M493 725h1M502 725h2M508 725h2M553 725h9M582 725h1M633 725h2M697 725h2M711 725h2M723 725h2M735 725h2M740 725h4M747 725h3M781 725h1M858 725h2M870 725h1M876 725h1M899 725h1M1000 725h2M1031 725h2M1049 725h2M1060 725h1M1089 725h1M1159 725h1M1309 725h2M1320 725h3M1332 725h1M1376 725h1M1408 725h1M1430 725h1M1434 725h1M83 726h3M122 726h1M333 726h2M344 726h3M356 726h2M376 726h6M386 726h2M468 726h4M494 726h1M501 726h1M510 726h1M552 726h1M562 726h1M581 726h1M699 726h2M710 726h1M725 726h2M733 726h2M744 726h3M782 726h1M857 726h1M871 726h1M875 726h1M900 726h1M998 726h2M1002 726h2M1029 726h2M1061 726h1M1087 726h2M1159 726h1M1307 726h2M1333 726h1M1375 726h1M1409 726h11M1428 726h2M1435 726h1M81 727h2M123 727h1M331 727h2M358 727h1M374 727h2M388 727h1M401 727h1M465 727h3M495 727h1M500 727h1M511 727h2M551 727h1M563 727h1M580 727h1M701 727h2M708 727h2M727 727h2M731 727h2M782 727h1M801 727h2M857 727h1M872 727h1M874 727h1M901 727h1M952 727h3M995 727h3M1004 727h1M1027 727h2M1062 727h1M1085 727h2M1159 727h1M1305 727h2M1334 727h1M1374 727h1M1420 727h4M1426 727h2M1435 727h1M80 728h1M123 728h1M329 728h2M359 728h1M371 728h3M389 728h1M399 728h2M402 728h1M417 728h5M464 728h1M496 728h1M498 728h2M513 728h1M550 728h1M564 728h1M580 728h1M703 728h2M706 728h2M729 728h2M783 728h1M799 728h2M803 728h2M856 728h1M873 728h1M901 728h1M950 728h2M955 728h2M990 728h5M1005 728h1M1024 728h3M1063 728h1M1083 728h2M1160 728h1M1304 728h1M1335 728h1M1372 728h2M1424 728h2M1436 728h1M1456 728h2M80 729h1M124 729h1M328 729h1M360 729h1M366 729h5M390 729h2M397 729h2M403 729h1M416 729h1M422 729h8M464 729h1M497 729h1M514 729h1M548 729h2M565 729h1M579 729h1M705 729h1M783 729h1M797 729h2M805 729h2M856 729h1M902 729h1M947 729h3M957 729h2M985 729h5M1006 729h2M1022 729h2M1064 729h1M1070 729h13M1160 729h1M1304 729h1M1335 729h1M1358 729h6M1371 729h1M1436 729h1M1452 729h4M1458 729h1M79 730h1M124 730h1M327 730h1M361 730h5M392 730h1M395 730h2M404 730h2M414 730h2M430 730h4M463 730h1M515 730h1M547 730h1M566 730h1M579 730h1M784 730h1M795 730h2M807 730h2M856 730h1M903 730h1M945 730h2M959 730h2M984 730h1M1008 730h1M1019 730h3M1065 730h5M1161 730h1M1184 730h10M1303 730h1M1336 730h1M1353 730h5M1364 730h4M1370 730h1M1437 730h1M1449 730h3M1458 730h1M46 731h6M79 731h1M124 731h1M326 731h1M393 731h2M406 731h1M413 731h1M434 731h1M463 731h1M516 731h2M546 731h1M567 731h1M578 731h1M784 731h1M790 731h5M809 731h3M855 731h1M903 731h1M944 731h1M961 731h5M983 731h1M1009 731h10M1161 731h2M1180 731h4M1193 731h1M1303 731h1M1337 731h2M1351 731h2M1368 731h2M1438 731h1M1448 731h1M1459 731h1M40 732h6M52 732h4M62 732h4M78 732h1M125 732h1M324 732h2M407 732h1M412 732h1M435 732h1M462 732h1M518 732h1M545 732h1M568 732h1M578 732h1M785 732h5M812 732h4M855 732h1M904 732h1M943 732h1M966 732h4M982 732h1M1163 732h3M1176 732h4M1194 732h1M1302 732h1M1339 732h3M1349 732h2M1438 732h1M1447 732h1M1460 732h1M1512 732h2M36 733h4M56 733h6M66 733h1M78 733h1M125 733h1M323 733h1M408 733h1M410 733h2M436 733h2M462 733h1M519 733h1M543 733h2M569 733h9M816 733h6M854 733h1M904 733h1M942 733h1M970 733h2M981 733h1M1166 733h2M1172 733h4M1194 733h1M1302 733h1M1342 733h2M1347 733h2M1439 733h1M1446 733h1M1460 733h1M1510 733h2M1514 733h2M32 734h4M67 734h1M77 734h1M125 734h1M322 734h1M409 734h1M438 734h1M461 734h1M520 734h1M541 734h2M822 734h4M854 734h1M905 734h3M941 734h1M972 734h1M981 734h1M1168 734h4M1194 734h1M1301 734h1M1344 734h3M1439 734h1M1444 734h2M1461 734h1M1507 734h3M1516 734h2M30 735h2M68 735h1M76 735h1M126 735h1M320 735h2M439 735h1M461 735h1M521 735h13M539 735h2M825 735h1M854 735h1M908 735h4M918 735h4M940 735h1M973 735h1M980 735h1M1194 735h1M1280 735h6M1300 735h1M1440 735h1M1443 735h1M1462 735h1M1494 735h13M1518 735h1M27 736h3M69 736h1M76 736h1M126 736h1M316 736h4M440 736h1M460 736h1M534 736h5M826 736h1M853 736h1M912 736h6M922 736h1M939 736h1M974 736h2M979 736h1M1195 736h1M1276 736h4M1286 736h4M1300 736h1M1440 736h1M1442 736h1M1462 736h1M1489 736h5M1519 736h2M1633 736h1M25 737h2M69 737h1M75 737h1M126 737h1M313 737h3M441 737h5M460 737h1M826 737h1M853 737h1M923 737h1M938 737h1M976 737h1M978 737h1M1195 737h1M1249 737h2M1273 737h3M1290 737h2M1299 737h1M1441 737h1M1463 737h1M1488 737h1M1521 737h3M1632 737h1M1634 737h1M24 738h1M70 738h1M75 738h1M127 738h1M312 738h1M446 738h5M459 738h1M827 738h1M853 738h1M924 738h2M937 738h1M977 738h1M1195 738h1M1249 738h1M1251 738h2M1272 738h1M1292 738h2M1299 738h1M1464 738h1M1472 738h2M1487 738h1M1524 738h4M1534 738h4M1632 738h1M1635 738h1M23 739h1M71 739h1M74 739h1M127 739h1M311 739h1M451 739h2M459 739h1M827 739h1M852 739h1M926 739h1M935 739h2M1195 739h1M1248 739h1M1253 739h2M1271 739h1M1294 739h1M1298 739h1M1464 739h1M1468 739h4M1474 739h1M1486 739h1M1528 739h6M1537 739h1M1631 739h1M1636 739h1M22 740h1M72 740h1M74 740h1M128 740h1M310 740h1M453 740h2M458 740h1M828 740h1M852 740h1M927 740h1M933 740h2M1196 740h1M1248 740h1M1255 740h2M1270 740h1M1295 740h2M1298 740h1M1465 740h3M1475 740h1M1485 740h1M1538 740h1M1631 740h1M1637 740h1M21 741h1M73 741h1M128 741h1M308 741h2M455 741h2M458 741h1M828 741h1M852 741h1M928 741h1M931 741h2M1196 741h1M1247 741h1M1257 741h2M1268 741h2M1297 741h1M1476 741h2M1485 741h1M1538 741h1M1630 741h1M1637 741h1M20 742h1M128 742h1M307 742h1M457 742h1M829 742h1M851 742h1M929 742h2M1196 742h1M1247 742h1M1259 742h3M1267 742h1M1478 742h1M1484 742h1M1539 742h1M1630 742h1M1638 742h1M19 743h1M129 743h1M306 743h1M829 743h1M851 743h1M1197 743h1M1246 743h1M1262 743h2M1266 743h1M1479 743h1M1483 743h1M1539 743h1M1601 743h5M1629 743h1M1639 743h1M1648 743h18M18 744h1M129 744h10M305 744h1M830 744h1M850 744h1M1197 744h1M1246 744h1M1264 744h2M1480 744h1M1482 744h1M1540 744h1M1599 744h2M1606 744h12M1629 744h1M1640 744h1M1644 744h4M17 745h1M139 745h2M273 745h5M303 745h2M830 745h1M850 745h1M1197 745h1M1246 745h1M1481 745h1M1540 745h1M1597 745h2M1618 745h1M1628 745h1M1641 745h3M17 746h1M141 746h2M272 746h1M278 746h13M302 746h1M831 746h1M850 746h1M1197 746h1M1245 746h1M1541 746h1M1595 746h2M1619 746h1M1628 746h1M16 747h1M143 747h2M271 747h1M291 747h3M300 747h2M831 747h1M841 747h5M849 747h1M1198 747h1M1245 747h1M1541 747h1M1593 747h2M1620 747h1M1627 747h1M16 748h1M145 748h1M270 748h1M294 748h2M298 748h2M832 748h1M839 748h2M846 748h4M1198 748h1M1244 748h1M1541 748h1M1591 748h2M1621 748h1M1627 748h1M15 749h1M146 749h1M269 749h1M296 749h2M832 749h1M837 749h2M1198 749h1M1209 749h3M1244 749h1M1542 749h1M1590 749h1M1622 749h1M1626 749h1M15 750h1M147 750h1M269 750h1M833 750h1M835 750h2M1199 750h1M1208 750h1M1212 750h4M1244 750h1M1542 750h1M1588 750h2M1623 750h1M1626 750h1M14 751h1M148 751h1M268 751h1M833 751h2M1199 751h1M1207 751h1M1216 751h2M1243 751h1M1543 751h1M1586 751h2M1624 751h2M14 752h1M149 752h1M267 752h1M1199 752h1M1207 752h1M1218 752h1M1243 752h1M1543 752h1M1584 752h2M1625 752h1M14 753h1M150 753h1M266 753h1M1199 753h1M1206 753h1M1219 753h1M1242 753h1M1544 753h1M1582 753h2M13 754h1M151 754h1M265 754h1M1200 754h1M1205 754h1M1220 754h2M1233 754h3M1242 754h1M1544 754h1M1579 754h3M13 755h1M152 755h1M265 755h1M1200 755h1M1204 755h1M1222 755h1M1231 755h2M1236 755h4M1241 755h1M1545 755h1M1577 755h2M12 756h1M153 756h3M264 756h1M1200 756h1M1203 756h1M1223 756h1M1229 756h2M1240 756h2M1545 756h2M1576 756h1M12 757h1M156 757h4M264 757h1M1200 757h1M1203 757h1M1224 757h1M1227 757h2M1547 757h3M1575 757h1M12 758h1M160 758h2M263 758h1M1201 758h2M1225 758h2M1550 758h2M1575 758h1M11 759h1M162 759h2M263 759h1M1201 759h1M1552 759h4M1574 759h1M11 760h1M164 760h1M263 760h1M1556 760h4M1573 760h1M10 761h1M165 761h1M262 761h1M1560 761h3M1572 761h1M10 762h1M166 762h2M262 762h1M1563 762h2M1571 762h1M9 763h1M168 763h1M225 763h1M261 763h1M1565 763h2M1571 763h1M8 764h2M169 764h1M224 764h1M226 764h1M261 764h1M1567 764h2M1570 764h1M6 765h2M170 765h1M206 765h4M224 765h1M226 765h1M261 765h1M1569 765h1M3 766h3M171 766h1M200 766h6M210 766h1M223 766h1M227 766h1M260 766h1M1 767h2M172 767h1M196 767h4M210 767h1M223 767h1M228 767h1M260 767h1M173 768h1M185 768h11M211 768h1M222 768h1M228 768h1M259 768h1M174 769h1M183 769h2M212 769h1M221 769h1M229 769h1M259 769h1M175 770h1M181 770h2M213 770h1M221 770h1M230 770h1M259 770h1M176 771h1M179 771h2M213 771h1M220 771h1M230 771h1M258 771h1M177 772h2M214 772h1M219 772h1M231 772h1M248 772h4M258 772h1M215 773h1M219 773h1M232 773h1M246 773h2M252 773h4M257 773h1M216 774h1M218 774h1M232 774h1M243 774h3M256 774h2M216 775h1M218 775h1M233 775h10M217 776h1" stroke="#1E90FF" stroke-width="1" fill="none"/>
</g>
<g shape-rendering="crispEdges" fill="#000">
<rect x="0" y="1" width="1687" height="1" fill="#000"/>
<rect x="0" y="1" width="1" height="502" fill="#000"/>
<rect x="0" y="502" width="1687" height="1" fill="#000"/>
<rect x="0" y="504" width="1687" height="1" fill="#000"/>
<rect x="0" y="504" width="1" height="163" fill="#000"/>
<rect x="0" y="666" width="1687" height="1" fill="#000"/>
<rect x="0" y="668" width="1687" height="1" fill="#000"/>
<rect x="0" y="668" width="1" height="150" fill="#000"/>
<rect x="0" y="817" width="1687" height="1" fill="#000"/>
<rect x="1686" y="1" width="1" height="817" fill="#000"/>
<rect x="1687" y="816" width="1" height="1" fill="#000"/>
<rect x="1687" y="4" width="2" height="1" fill="#000"/>
<rect x="1687" y="37" width="2" height="1" fill="#000"/>
<rect x="1687" y="70" width="2" height="1" fill="#000"/>
<rect x="1687" y="103" width="2" height="1" fill="#000"/>
<rect x="1687" y="136" width="2" height="1" fill="#000"/>
<rect x="1687" y="169" width="2" height="1" fill="#000"/>
<rect x="1687" y="202" width="2" height="1" fill="#000"/>
<rect x="1687" y="235" width="2" height="1" fill="#000"/>
<rect x="1687" y="268" width="2" height="1" fill="#000"/>
<rect x="1687" y="301" width="2" height="1" fill="#000"/>
<rect x="1687" y="334" width="2" height="1" fill="#000"/>
<rect x="1687" y="367" width="2" height="1" fill="#000"/>
<rect x="1687" y="400" width="2" height="1" fill="#000"/>
<rect x="1687" y="433" width="2" height="1" fill="#000"/>
<rect x="1687" y="466" width="2" height="1" fill="#000"/>
<rect x="1687" y="499" width="2" height="1" fill="#000"/>
<rect x="1687" y="575" width="2" height="1" fill="#000"/>
<rect x="1687" y="506" width="1" height="1" fill="#000"/>
<rect x="1687" y="665" width="1" height="1" fill="#000"/>
<rect x="1687" y="670" width="1" height="1" fill="#000"/>
<rect x="1" y="818" width="1" height="3" fill="#000"/>
<rect x="65" y="818" width="1" height="3" fill="#000"/>
<rect x="129" y="818" width="1" height="3" fill="#000"/>
<rect x="193" y="818" width="1" height="3" fill="#000"/>
<rect x="257" y="818" width="1" height="3" fill="#000"/>
<rect x="321" y="818" width="1" height="3" fill="#000"/>
<rect x="385" y="818" width="1" height="3" fill="#000"/>
<rect x="449" y="818" width="1" height="3" fill="#000"/>
<rect x="513" y="818" width="1" height="3" fill="#000"/>
<rect x="577" y="818" width="1" height="3" fill="#000"/>
<rect x="641" y="818" width="1" height="3" fill="#000"/>
<rect x="705" y="818" width="1" height="3" fill="#000"/>
<rect x="769" y="818" width="1" height="3" fill="#000"/>
<rect x="833" y="818" width="1" height="3" fill="#000"/>
<rect x="897" y="818" width="1" height="3" fill="#000"/>
<rect x="961" y="818" width="1" height="3" fill="#000"/>
<rect x="1025" y="818" width="1" height="3" fill="#000"/>
<rect x="1089" y="818" width="1" height="3" fill="#000"/>
<rect x="1153" y="818" width="1" height="3" fill="#000"/>
<rect x="1217" y="818" width="1" height="3" fill="#000"/>
<rect x="1281" y="818" width="1" height="3" fill="#000"/>
<rect x="1345" y="818" width="1" height="3" fill="#000"/>
<rect x="1409" y="818" width="1" height="3" fill="#000"/>
<rect x="1473" y="818" width="1" height="3" fill="#000"/>
<rect x="1537" y="818" width="1" height="3" fill="#000"/>
<rect x="1601" y="818" width="1" height="3" fill="#000"/>
<rect x="1665" y="818" width="1" height="3" fill="#000"/>
</g>
<g shape-rendering="crispEdges"><rect x="1686" y="105" width="1" height="2" fill="#32CD32"/><rect x="1686" y="186" width="1" height="2" fill="#4169E1"/><rect x="1686" y="247" width="1" height="2" fill="#4169E1"/></g>
<text x="1691.8" y="8" textLength="28.3" lengthAdjust="spacingAndGlyphs">76.520</text>
<text x="1691.8" y="41" textLength="28.3" lengthAdjust="spacingAndGlyphs">75.700</text>
<text x="1691.8" y="74" textLength="28.3" lengthAdjust="spacingAndGlyphs">74.900</text>
<text x="1691.8" y="140" textLength="28.3" lengthAdjust="spacingAndGlyphs">73.260</text>
<text x="1691.8" y="173" textLength="28.3" lengthAdjust="spacingAndGlyphs">72.460</text>
<text x="1691.8" y="206" textLength="28.3" lengthAdjust="spacingAndGlyphs">71.640</text>
<text x="1691.8" y="239" textLength="28.3" lengthAdjust="spacingAndGlyphs">70.820</text>
<text x="1691.8" y="272" textLength="28.3" lengthAdjust="spacingAndGlyphs">70.020</text>
<text x="1691.8" y="305" textLength="28.3" lengthAdjust="spacingAndGlyphs">69.200</text>
<text x="1691.8" y="338" textLength="28.3" lengthAdjust="spacingAndGlyphs">68.380</text>
<text x="1691.8" y="371" textLength="28.3" lengthAdjust="spacingAndGlyphs">67.580</text>
<text x="1691.8" y="404" textLength="28.3" lengthAdjust="spacingAndGlyphs">66.760</text>
<text x="1691.8" y="437" textLength="28.3" lengthAdjust="spacingAndGlyphs">65.940</text>
<text x="1691.8" y="470" textLength="28.3" lengthAdjust="spacingAndGlyphs">65.140</text>
<text x="1691.8" y="503" textLength="28.3" lengthAdjust="spacingAndGlyphs">64.320</text>
<rect x="1688" y="181" width="36" height="11" fill="#4169E1" shape-rendering="crispEdges"/>
<text x="1691.8" y="190" class="w" textLength="28.3" lengthAdjust="spacingAndGlyphs">72.000</text>
<rect x="1688" y="242" width="36" height="11" fill="#4169E1" shape-rendering="crispEdges"/>
<text x="1691.8" y="251" class="w" textLength="28.3" lengthAdjust="spacingAndGlyphs">70.500</text>
<rect x="1688" y="100" width="36" height="11" fill="#32CD32" shape-rendering="crispEdges"/>
<text x="1691.8" y="109" class="w" textLength="28.3" lengthAdjust="spacingAndGlyphs">74.000</text>
<rect x="1688" y="77" width="36" height="11" fill="#000" shape-rendering="crispEdges"/>
<text x="1691.8" y="86" class="w" textLength="28.3" lengthAdjust="spacingAndGlyphs">74.610</text>
<text x="1690.4" y="515" textLength="17.6" lengthAdjust="spacingAndGlyphs">0.76</text>
<text x="1690.4" y="579" textLength="17.6" lengthAdjust="spacingAndGlyphs">0.00</text>
<text x="1690.4" y="663" textLength="30.5" lengthAdjust="spacingAndGlyphs">-0.9862</text>
<text x="1690.6" y="679" textLength="14.4" lengthAdjust="spacingAndGlyphs">100</text>
<text x="1689.6" y="718" textLength="9.4" lengthAdjust="spacingAndGlyphs">70</text>
<text x="1689.6" y="776" textLength="9.4" lengthAdjust="spacingAndGlyphs">30</text>
<text x="1690" y="814" textLength="4.8" lengthAdjust="spacingAndGlyphs">0</text>
<path d="M4 8h7v1h-7zM5 9h5v1h-5zM6 10h3v1h-3zM7 11h1v1h-1z" fill="#000" shape-rendering="crispEdges"/>
<text x="16.4" y="13" textLength="42.5" lengthAdjust="spacingAndGlyphs">UKOil-,H4</text>
<text x="65" y="13" textLength="28" lengthAdjust="spacingAndGlyphs">74.610</text>
<text x="96" y="13" textLength="28" lengthAdjust="spacingAndGlyphs">74.610</text>
<text x="127" y="13" textLength="28" lengthAdjust="spacingAndGlyphs">74.610</text>
<text x="158" y="13" textLength="28" lengthAdjust="spacingAndGlyphs">74.610</text>
<text x="5.4" y="517" textLength="66.3" lengthAdjust="spacingAndGlyphs">MACD(12,26,9)</text>
<text x="73.7" y="517" textLength="31.2" lengthAdjust="spacingAndGlyphs">-0.0454</text>
<text x="108" y="517" textLength="31.2" lengthAdjust="spacingAndGlyphs">-0.0861</text>
<text x="5.4" y="681" textLength="31.2" lengthAdjust="spacingAndGlyphs">RSI(14)</text>
<text x="40" y="681" textLength="33" lengthAdjust="spacingAndGlyphs">49.7914</text>
<text x="0.6" y="830" textLength="54" lengthAdjust="spacingAndGlyphs">14 May 2021</text>
<text x="64.6" y="830" textLength="57.4" lengthAdjust="spacingAndGlyphs">17 May 04:00</text>
<text x="128.6" y="830" textLength="57.4" lengthAdjust="spacingAndGlyphs">18 May 12:00</text>
<text x="192.6" y="830" textLength="57.4" lengthAdjust="spacingAndGlyphs">19 May 20:00</text>
<text x="256.6" y="830" textLength="57.4" lengthAdjust="spacingAndGlyphs">21 May 04:00</text>
<text x="320.6" y="830" textLength="57.4" lengthAdjust="spacingAndGlyphs">24 May 08:00</text>
<text x="384.6" y="830" textLength="57.4" lengthAdjust="spacingAndGlyphs">25 May 16:00</text>
<text x="448.6" y="830" textLength="57.4" lengthAdjust="spacingAndGlyphs">27 May 04:00</text>
<text x="512.6" y="830" textLength="57.4" lengthAdjust="spacingAndGlyphs">28 May 12:00</text>
<text x="576.6" y="830" textLength="57.4" lengthAdjust="spacingAndGlyphs">31 May 16:00</text>
<text x="640.6" y="830" textLength="47.7" lengthAdjust="spacingAndGlyphs">2 Jun 04:00</text>
<text x="704.6" y="830" textLength="47.7" lengthAdjust="spacingAndGlyphs">3 Jun 12:00</text>
<text x="768.6" y="830" textLength="47.7" lengthAdjust="spacingAndGlyphs">4 Jun 20:00</text>
<text x="832.6" y="830" textLength="47.7" lengthAdjust="spacingAndGlyphs">8 Jun 00:00</text>
<text x="896.6" y="830" textLength="47.7" lengthAdjust="spacingAndGlyphs">9 Jun 08:00</text>
<text x="960.6" y="830" textLength="52.7" lengthAdjust="spacingAndGlyphs">10 Jun 16:00</text>
<text x="1024.6" y="830" textLength="52.7" lengthAdjust="spacingAndGlyphs">13 Jun 23:00</text>
<text x="1088.6" y="830" textLength="52.7" lengthAdjust="spacingAndGlyphs">15 Jun 04:00</text>
<text x="1152.6" y="830" textLength="52.7" lengthAdjust="spacingAndGlyphs">16 Jun 12:00</text>
<text x="1216.6" y="830" textLength="52.7" lengthAdjust="spacingAndGlyphs">17 Jun 20:00</text>
<text x="1280.6" y="830" textLength="52.7" lengthAdjust="spacingAndGlyphs">21 Jun 00:00</text>
<text x="1344.6" y="830" textLength="52.7" lengthAdjust="spacingAndGlyphs">22 Jun 08:00</text>
<text x="1408.6" y="830" textLength="52.7" lengthAdjust="spacingAndGlyphs">23 Jun 16:00</text>
<text x="1472.6" y="830" textLength="52.7" lengthAdjust="spacingAndGlyphs">25 Jun 04:00</text>
<text x="1536.6" y="830" textLength="52.7" lengthAdjust="spacingAndGlyphs">28 Jun 08:00</text>
<text x="1600.6" y="830" textLength="52.7" lengthAdjust="spacingAndGlyphs">29 Jun 16:00</text>
<text x="1664.6" y="830" textLength="52.7" lengthAdjust="spacingAndGlyphs">30 Jun 21:15</text>
<text x="1252" y="393.5" textLength="178.5" lengthAdjust="spacing" style="font-family:'Liberation Sans','Noto Sans CJK SC',sans-serif;font-size:38.9px;fill:#EE1C25;stroke:none">多空转折点</text>
<text transform="translate(1437.2,391.2) scale(0.807,1)" style="font-size:39.5px;fill:#EE1C25;stroke:none">7</text>
<text transform="translate(1454.5,391.2) scale(1.015,1)" style="font-size:39.5px;fill:#EE1C25;stroke:none">4</text>
</svg></body></html>
